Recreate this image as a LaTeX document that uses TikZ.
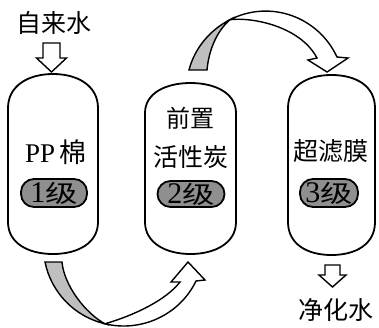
\documentclass[tikz,border=0pt]{standalone}
\usepackage{fontspec}
\setmainfont{Liberation Serif}
\newfontfamily\cjk{Noto Sans CJK SC}
\newfontfamily\cjkw[FakeStretch=1.35]{Noto Sans CJK SC}
\tikzset{
 tank/.style={draw=black, line width=1.8pt, fill=white},
 lbl/.style={inner sep=0pt, font=\fontsize{25}{30}\selectfont\cjk},
 pill/.style={draw=black, line width=1.8pt, fill=gray!88, rounded corners=13pt,
   minimum height=28pt, inner sep=0pt, font=\fontsize{30}{30}\selectfont},
 blk/.style={draw=black, line width=1.4pt, fill=white, line join=miter},
 back/.style={draw=black, line width=1.4pt, fill=gray!50, line join=miter},
}
\newcommand{\ji}{{\cjkw\fontsize{24}{24}\selectfont 级}}
\begin{document}
\begin{tikzpicture}[x=1pt,y=-1pt]
\useasboundingbox (0,0) rectangle (379,327);
% tanks
\draw[tank] (8,108) .. controls (8,86) and (28,74) .. (53,74) .. controls (78,74) and (98,86) .. (98,108)
  -- (98,222) .. controls (98,243) and (78,254) .. (53,254) .. controls (28,254) and (8,243) .. (8,222) -- cycle;
\draw[tank] (145,113) .. controls (145,93) and (166,83) .. (190.5,83) .. controls (215,83) and (236,93) .. (236,113)
  -- (236,222) .. controls (236,243) and (215,254) .. (190.5,254) .. controls (166,254) and (145,243) .. (145,222) -- cycle;
\draw[tank] (288,108) .. controls (288,86) and (307,75) .. (331.5,75) .. controls (356,75) and (375,86) .. (375,108)
  -- (375,222) .. controls (375,244) and (356,255) .. (331.5,255) .. controls (307,255) and (288,244) .. (288,222) -- cycle;
% top curved arrow
\draw[back] (189,70) .. controls (194.6,48.2) and (210,29.9) .. (230,19.7)
  .. controls (218,30) and (209,48) .. (207,70) -- cycle;
\draw[blk] (230,19.7) .. controls (269.9,-0.7) and (318.1,16.4) .. (337,57) -- (348,58) -- (327,72)
  -- (308,60) -- (317,58) .. controls (300,26) and (252,17) .. (230,19.7) -- cycle;
% bottom curved arrow
\draw[back] (45,262) .. controls (51.2,292.6) and (74.6,316.6) .. (105,323.8)
  .. controls (85,313) and (64,285) .. (62,262) -- cycle;
\draw[blk] (105,323.8) .. controls (141.5,332.5) and (179.7,314.8) .. (196,281) -- (205,280) -- (188,262)
  -- (171,282) -- (180,282) .. controls (166,300) and (135,315) .. (105,323.8) -- cycle;
% straight block arrows
\draw[blk] (43,43) -- (60,43) -- (60,58) -- (66.5,58) -- (51.5,72) -- (36.5,58) -- (43,58) -- cycle;
\draw[blk] (325,265) -- (340,265) -- (340,275) -- (346,275) -- (332.5,287) -- (319,275) -- (325,275) -- cycle;
% labels
\node[lbl] (src) at (54,23) {自来水};
\node[lbl] (dst) at (336,310) {净化水};
\node[inner sep=0pt, font=\fontsize{27}{30}\selectfont] (t1) at (56,152) {PP\,{\cjk 棉}};
\node[lbl, font=\fontsize{24}{28}\selectfont\cjk] (t2a) at (190,118) {前置};
\node[lbl, font=\fontsize{25}{28}\selectfont\cjk] (t2b) at (191,157) {活性炭};
\node[lbl] (t3) at (331,151) {超滤膜};
% pills
\node[pill, minimum width=66pt] (p1) at (54,193) {1\ji};
\node[pill, minimum width=67pt, minimum height=26pt] (p2) at (191,194) {2\ji};
\node[pill, minimum width=58pt] (p3) at (329,193) {3\ji};
\end{tikzpicture}
\end{document}
